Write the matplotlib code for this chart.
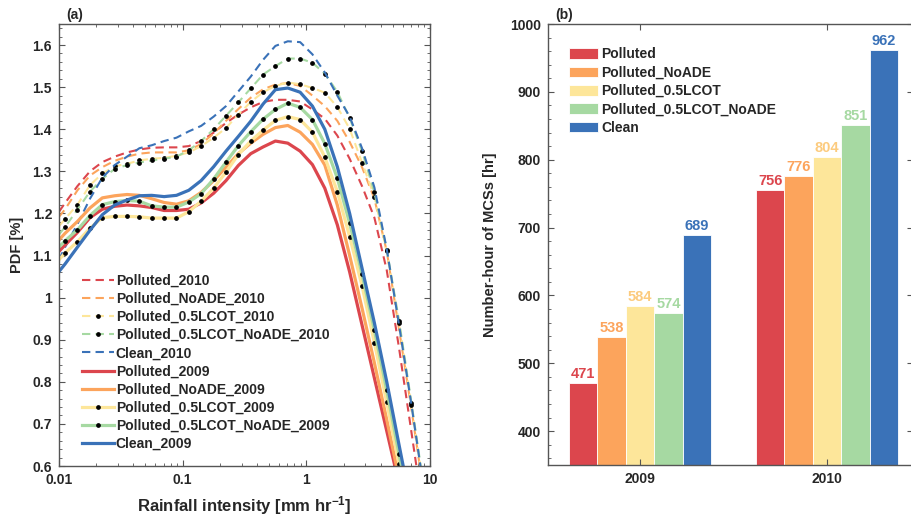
import numpy as np
import matplotlib
matplotlib.use('Agg')
import matplotlib.pyplot as plt
from matplotlib.ticker import MultipleLocator, FixedLocator, FuncFormatter

plt.rcParams['font.family'] = ['Liberation Sans', 'DejaVu Sans']
plt.rcParams['font.weight'] = 'bold'
plt.rcParams['axes.labelweight'] = 'bold'
plt.rcParams['mathtext.fontset'] = 'custom'
plt.rcParams['mathtext.rm'] = 'Liberation Sans:bold'
plt.rcParams['mathtext.default'] = 'rm'
plt.rcParams['text.color'] = '#262626'
plt.rcParams['axes.labelcolor'] = '#262626'
plt.rcParams['xtick.color'] = '#262626'
plt.rcParams['ytick.color'] = '#262626'

# ---- panel (a): rainfall intensity PDF ----
rain_x = [0.01, 0.0112, 0.0141, 0.0178, 0.0224, 0.0282, 0.0355, 0.0447, 0.0562,
          0.0708, 0.0891, 0.112, 0.141, 0.178, 0.224, 0.282, 0.355, 0.447, 0.562,
          0.708, 0.891, 1.12, 1.41, 1.78, 2.24, 2.82, 3.55, 4.47, 5.62, 7.08, 8.91]

pdf_polluted_2010 = [1.204, 1.225, 1.265, 1.300, 1.322, 1.335, 1.345, 1.352, 1.356, 1.357,
                     1.357, 1.360, 1.372, 1.392, 1.415, 1.435, 1.452, 1.465, 1.470, 1.470,
                     1.466, 1.447, 1.425, 1.385, 1.330, 1.265, 1.190, 1.065, 0.880, 0.680, 0.480]
pdf_noade_2010 = [1.192, 1.210, 1.255, 1.290, 1.310, 1.325, 1.335, 1.342, 1.345, 1.345,
                  1.345, 1.350, 1.365, 1.390, 1.420, 1.448, 1.475, 1.495, 1.506, 1.510,
                  1.503, 1.480, 1.455, 1.420, 1.370, 1.310, 1.235, 1.110, 0.925, 0.735, 0.535]
pdf_lcot_2010 = [1.170, 1.187, 1.221, 1.267, 1.295, 1.312, 1.318, 1.326, 1.330, 1.332,
                 1.337, 1.345, 1.360, 1.380, 1.403, 1.435, 1.465, 1.488, 1.503, 1.511,
                 1.507, 1.498, 1.487, 1.453, 1.401, 1.321, 1.240, 1.110, 0.940, 0.745, 0.545]
pdf_lcot_noade_2010 = [1.150, 1.168, 1.209, 1.252, 1.282, 1.306, 1.315, 1.321, 1.326, 1.330,
                       1.335, 1.350, 1.372, 1.400, 1.432, 1.464, 1.497, 1.530, 1.550, 1.568,
                       1.568, 1.558, 1.532, 1.489, 1.427, 1.348, 1.250, 1.114, 0.945, 0.750, 0.550]
pdf_clean_2010 = [1.090, 1.120, 1.175, 1.235, 1.285, 1.315, 1.335, 1.355, 1.362, 1.372,
                  1.380, 1.395, 1.408, 1.430, 1.455, 1.490, 1.525, 1.565, 1.598, 1.609,
                  1.607, 1.578, 1.535, 1.480, 1.430, 1.355, 1.262, 1.115, 0.935, 0.745, 0.545]

pdf_polluted_2009 = [1.110, 1.125, 1.155, 1.190, 1.210, 1.217, 1.220, 1.218, 1.214, 1.207,
                     1.207, 1.210, 1.225, 1.248, 1.278, 1.314, 1.342, 1.358, 1.372, 1.367,
                     1.348, 1.316, 1.260, 1.173, 1.061, 0.935, 0.809, 0.683, 0.557, 0.430, 0.300]
pdf_noade_2009 = [1.137, 1.153, 1.181, 1.213, 1.237, 1.242, 1.245, 1.243, 1.235, 1.226,
                  1.222, 1.230, 1.250, 1.278, 1.310, 1.342, 1.367, 1.388, 1.404, 1.409,
                  1.393, 1.364, 1.315, 1.220, 1.100, 0.975, 0.845, 0.710, 0.570, 0.430, 0.290]
pdf_lcot_2009 = [1.090, 1.106, 1.133, 1.165, 1.190, 1.193, 1.193, 1.192, 1.189, 1.189,
                 1.189, 1.204, 1.229, 1.260, 1.298, 1.340, 1.372, 1.398, 1.421, 1.430,
                 1.423, 1.393, 1.334, 1.252, 1.145, 1.028, 0.893, 0.751, 0.604, 0.450, 0.300]
pdf_lcot_noade_2009 = [1.120, 1.135, 1.161, 1.195, 1.221, 1.228, 1.231, 1.229, 1.218, 1.215,
                       1.215, 1.227, 1.247, 1.282, 1.322, 1.361, 1.394, 1.424, 1.447, 1.462,
                       1.452, 1.423, 1.366, 1.284, 1.177, 1.056, 0.923, 0.780, 0.628, 0.480, 0.330]
pdf_clean_2009 = [1.062, 1.080, 1.120, 1.160, 1.197, 1.220, 1.232, 1.242, 1.243, 1.240,
                  1.243, 1.255, 1.278, 1.311, 1.348, 1.383, 1.419, 1.460, 1.494, 1.498,
                  1.488, 1.455, 1.400, 1.311, 1.200, 1.070, 0.940, 0.800, 0.650, 0.500, 0.350]

# ---- panel (b): number-hour of MCSs ----
years = ['2009', '2010']
hours_polluted = [471, 756]
hours_noade = [538, 776]
hours_lcot = [584, 804]
hours_lcot_noade = [574, 851]
hours_clean = [689, 962]

case_names = ['Polluted', 'Polluted_NoADE', 'Polluted_0.5LCOT', 'Polluted_0.5LCOT_NoADE', 'Clean']
colors = ['#DC464D', '#FCA45C', '#FDE69A', '#A6D9A2', '#3A72B8']
label_colors = ['#DC464D', '#FCA45C', '#FCCB7E', '#A6D9A2', '#3A72B8']

fig = plt.figure(figsize=(9.12, 5.19), dpi=100)

# left panel
ax1 = fig.add_axes([0.0647, 0.1021, 0.4068, 0.8516])
series_2010 = [pdf_polluted_2010, pdf_noade_2010, pdf_lcot_2010, pdf_lcot_noade_2010, pdf_clean_2010]
series_2009 = [pdf_polluted_2009, pdf_noade_2009, pdf_lcot_2009, pdf_lcot_noade_2009, pdf_clean_2009]
dotted = [False, False, True, True, False]
handles = []
for i, vals in enumerate(series_2010):
    kw = dict(marker='o', ms=2.4, mfc='k', mec='k', markevery=list(range(1, 31))) if dotted[i] else {}
    ln, = ax1.plot(rain_x, vals, color=colors[i], lw=1.5, ls=(0, (4, 2.5)),
                   label=case_names[i] + '_2010', **kw)
    handles.append(ln)
for i, vals in enumerate(series_2009):
    kw = dict(marker='o', ms=2.4, mfc='k', mec='k', markevery=list(range(1, 31))) if dotted[i] else {}
    ln, = ax1.plot(rain_x, vals, color=colors[i], lw=2.3, ls='-',
                   label=case_names[i] + '_2009', **kw)
    handles.append(ln)

ax1.set_xscale('log')
ax1.set_xlim(0.01, 10)
ax1.set_ylim(0.6, 1.65)
ax1.set_xticks([0.01, 0.1, 1, 10])
ax1.set_xticklabels(['0.01', '0.1', '1', '10'])
ax1.yaxis.set_major_locator(FixedLocator(np.arange(0.6, 1.61, 0.1)))
ax1.yaxis.set_major_formatter(FuncFormatter(lambda v, p: f'{v:g}'))
ax1.yaxis.set_minor_locator(MultipleLocator(0.02))
ax1.set_xlabel('Rainfall intensity [mm hr$^{-1}$]', fontsize=12)
ax1.set_ylabel('PDF [%]', fontsize=10.5)
ax1.xaxis.set_label_coords(0.5, -0.064)
ax1.yaxis.set_label_coords(-0.095, 0.5)
leg1 = ax1.legend(handles=handles, loc='lower left', bbox_to_anchor=(0.048, 0.021),
                  frameon=False, fontsize=10, handlelength=2.3, handletextpad=0.1,
                  labelspacing=0.3, borderaxespad=0)

# right panel
ax2 = fig.add_axes([0.6009, 0.104, 0.4002, 0.8497])
x = np.arange(1, len(years) + 1)
width = 0.152
all_hours = [hours_polluted, hours_noade, hours_lcot, hours_lcot_noade, hours_clean]
for i, vals in enumerate(all_hours):
    pos = x + (i - 2) * width
    ax2.bar(pos, vals, width, color=colors[i], edgecolor='white', linewidth=0.6,
            label=case_names[i])
    for p, v in zip(pos, vals):
        ax2.text(p, v + 3, str(v), ha='center', va='bottom', color=label_colors[i],
                 fontsize=10.5, fontweight='bold')
ax2.set_xlim(0.508, 2.46)
ax2.set_ylim(350, 1000)
ax2.set_xticks(x)
ax2.set_xticklabels(years)
ax2.yaxis.set_major_locator(MultipleLocator(100))
ax2.yaxis.set_minor_locator(MultipleLocator(20))
ax2.set_ylabel('Number-hour of MCSs [hr]', fontsize=10.5)
ax2.yaxis.set_label_coords(-0.14, 0.5)
ax2.legend(loc='upper left', bbox_to_anchor=(0.041, 0.96), frameon=False, fontsize=10,
           handlelength=2.15, handleheight=0.8, handletextpad=0.2, labelspacing=0.32,
           borderaxespad=0)

for ax in (ax1, ax2):
    for s in ax.spines.values():
        s.set_color('#555555')
        s.set_linewidth(1.0)
    ax.tick_params(which='both', direction='in', top=True, right=True, labelsize=10,
                   color='#555555')
    ax.tick_params(which='major', length=4.5, pad=5)
    ax.tick_params(which='minor', length=2.5)
ax2.tick_params(which='minor', right=False)

fig.text(66 / 912, 1 - 15 / 519, '(a)', fontsize=10, fontweight='bold', va='center')
fig.text(555 / 912, 1 - 15 / 519, '(b)', fontsize=10, fontweight='bold', va='center')

fig.savefig('out.png', dpi=100)
